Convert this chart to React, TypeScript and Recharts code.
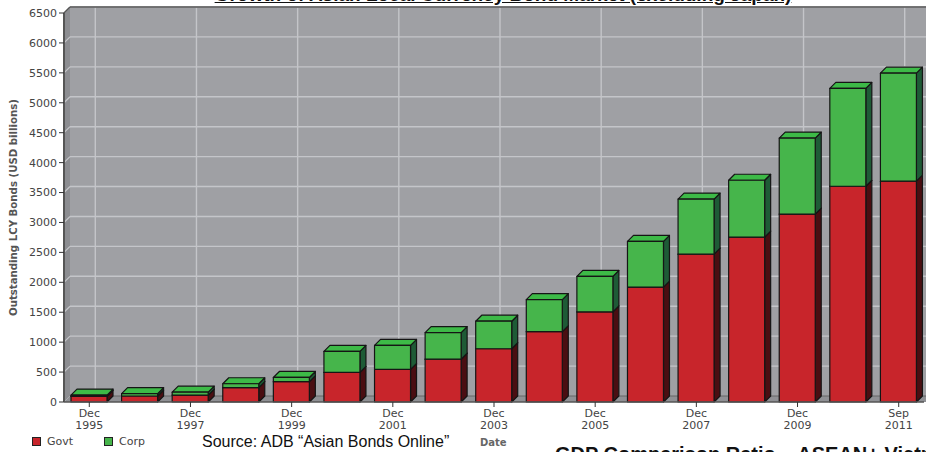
import React from 'react';
import { BarChart, Bar, XAxis, YAxis, usePlotArea } from 'recharts';

const months = ['Dec', 'Dec', 'Dec', 'Dec', 'Dec', 'Dec', 'Dec', 'Dec', 'Dec', 'Dec', 'Dec', 'Dec', 'Dec', 'Dec', 'Dec', 'Dec', 'Sep'];
const years = ['1995', '1996', '1997', '1998', '1999', '2000', '2001', '2002', '2003', '2004', '2005', '2006', '2007', '2008', '2009', '2010', '2011'];
const govt = [95, 100, 115, 240, 340, 495, 545, 715, 890, 1175, 1505, 1920, 2470, 2755, 3140, 3605, 3690];
const corp = [20, 40, 50, 65, 70, 350, 400, 445, 460, 535, 595, 765, 920, 950, 1270, 1635, 1805];
const yTicks = [0, 500, 1000, 1500, 2000, 2500, 3000, 3500, 4000, 4500, 5000, 5500, 6000, 6500];

const data = years.map((y, i) => ({ period: `${months[i]} ${y}`, month: months[i], year: y, govt: govt[i], corp: corp[i] }));

const DEPTH = 6;
const Y_MAX = 6500;
const FONT = '"DejaVu Sans", Verdana, sans-serif';

const COLORS = {
  govt: { front: '#c8252b', side: '#4a0e12', top: '#d3393e' },
  corp: { front: '#46b54b', side: '#1e5b36', top: '#3dba47' },
};

const make3D = (c: { front: string; side: string; top: string }) => (props: any) => {
  const { x, y, width, height } = props;
  if (!height || height <= 0) return <g />;
  const d = DEPTH;
  const b = y + height;
  return (
    <g stroke="#151515" strokeWidth={1.2} strokeLinejoin="round">
      <path d={`M${x + width},${b} L${x + width + d},${b - d} L${x + width + d},${y - d} L${x + width},${y} Z`} fill={c.side} />
      <path d={`M${x},${y} L${x + d},${y - d} L${x + width + d},${y - d} L${x + width},${y} Z`} fill={c.top} />
      <rect x={x} y={y} width={width} height={height} fill={c.front} />
    </g>
  );
};

const Walls = () => {
  const pa = usePlotArea();
  if (!pa) return null;
  const { x, y, width, height } = pa;
  const d = DEPTH;
  const bottom = y + height;
  const right = x + width;
  const yOf = (v: number) => y + height * (1 - v / Y_MAX);
  const band = width / data.length;
  const grid = '#c4c5c9';
  return (
    <g>
      <rect x={x + d} y={y - d} width={width + 10} height={height} fill="#9fa0a4" />
      <path d={`M${x},${y} L${x + d},${y - d} L${x + d},${bottom - d} L${x},${bottom} Z`} fill="#8c8d91" />
      <path d={`M${x},${bottom} L${x + d},${bottom - d} L${right + d + 10},${bottom - d} L${right + 10},${bottom} Z`} fill="#8f9094" />
      {yTicks.slice(1).map((v) => (
        <g key={v}>
          <line x1={x + d} x2={right + d + 10} y1={yOf(v) - d} y2={yOf(v) - d} stroke={grid} strokeWidth={1.4} />
          <line x1={x} x2={x + d} y1={yOf(v)} y2={yOf(v) - d} stroke={grid} strokeWidth={1.2} />
        </g>
      ))}
      {data.map((e, i) =>
        i % 2 === 0 ? (
          <g key={e.period}>
            <line x1={x + band * (i + 0.5) + d} x2={x + band * (i + 0.5) + d} y1={y - d} y2={bottom - d} stroke={grid} strokeWidth={1.4} />
            <line x1={x + band * (i + 0.5) + d} x2={x + band * (i + 0.5)} y1={bottom - d} y2={bottom} stroke={grid} strokeWidth={1.2} />
          </g>
        ) : null
      )}
      <line x1={x + d} x2={right + d + 10} y1={y - d} y2={y - d} stroke="#555" strokeWidth={1.5} />
      <line x1={x} x2={x + d} y1={y} y2={y - d} stroke="#555" strokeWidth={1.5} />
      <line x1={x + d} x2={right + d + 10} y1={bottom - d} y2={bottom - d} stroke="#666" strokeWidth={1} />
      <text
        x={14}
        y={(y + bottom) / 2}
        transform={`rotate(-90 14 ${(y + bottom) / 2})`}
        textAnchor="middle"
        dominantBaseline="middle"
        fontFamily={FONT}
        fontWeight="bold"
        fontSize={10.2}
        fill="#555"
      >
        Outstanding LCY Bonds (USD billions)
      </text>
    </g>
  );
};

const XTick = (props: any) => {
  const { x, y, payload, index } = props;
  const e = data[payload.index ?? index];
  if (!e) return null;
  return (
    <text x={x} y={y} textAnchor="middle" fontFamily={FONT} fontSize={11} fill="#444">
      <tspan x={x} dy={8}>{e.month}</tspan>
      <tspan x={x} dy={12}>{e.year}</tspan>
    </text>
  );
};

const LegendBox = ({ color, label, left }: { color: string; label: string; left: number }) => (
  <div style={{ position: 'absolute', left, top: 435, display: 'flex', alignItems: 'center', fontFamily: FONT, fontSize: 11, color: '#444' }}>
    <span style={{ width: 7, height: 7, background: color, border: '1px solid #222', marginRight: 6, display: 'inline-block' }} />
    {label}
  </div>
);

export default function App() {
  return (
    <div style={{ position: 'absolute', left: 0, top: 0, width: 926, height: 452, overflow: 'hidden', background: '#fff' }}>
      <BarChart width={926} height={452} data={data} margin={{ top: 13, right: 2, bottom: 20, left: 0 }} barSize={36}>
        <Walls />
        <XAxis
          dataKey="period"
          interval={1}
          tick={<XTick />}
          tickLine={{ stroke: '#333' }}
          tickSize={5}
          axisLine={{ stroke: '#555', strokeWidth: 1.5 }}
          height={30}
        />
        <YAxis
          domain={[0, Y_MAX]}
          ticks={yTicks}
          width={64}
          tick={{ fontFamily: FONT, fontSize: 11, fill: '#444' }}
          tickLine={{ stroke: '#333' }}
          tickSize={5}
          axisLine={{ stroke: '#555', strokeWidth: 2 }}
        />
        <Bar dataKey="govt" stackId="a" fill={COLORS.govt.front} shape={make3D(COLORS.govt)} isAnimationActive={false} />
        <Bar dataKey="corp" stackId="a" fill={COLORS.corp.front} shape={make3D(COLORS.corp)} isAnimationActive={false} />
      </BarChart>
      <div
        style={{
          position: 'absolute',
          left: 0,
          width: 1006,
          top: -16,
          textAlign: 'center',
          fontFamily: '"Liberation Sans", Arial, sans-serif',
          fontWeight: 'bold',
          fontSize: 19,
          textDecoration: 'underline',
          color: '#111',
        }}
      >
        <span style={{ background: '#fff' }}>Growth of Asian Local Currency Bond Market (excluding Japan)</span>
      </div>
      <LegendBox color={COLORS.govt.front} label="Govt" left={32} />
      <LegendBox color={COLORS.corp.front} label="Corp" left={104} />
      <div style={{ position: 'absolute', left: 202, top: 434, lineHeight: '16px', fontFamily: '"Liberation Sans", Arial, sans-serif', fontSize: 16, color: '#111', whiteSpace: 'nowrap' }}>
        Source: ADB “Asian Bonds Online”
      </div>
      <div style={{ position: 'absolute', left: 480, top: 437, fontFamily: FONT, fontWeight: 'bold', fontSize: 10, color: '#666' }}>
        Date
      </div>
      <div style={{ position: 'absolute', left: 555, top: 443, fontFamily: '"Liberation Sans", Arial, sans-serif', fontWeight: 'bold', fontSize: 20, color: '#111', whiteSpace: 'nowrap' }}>
        GDP Comparison Ratio – ASEAN+ Vietnam
      </div>
    </div>
  );
}
